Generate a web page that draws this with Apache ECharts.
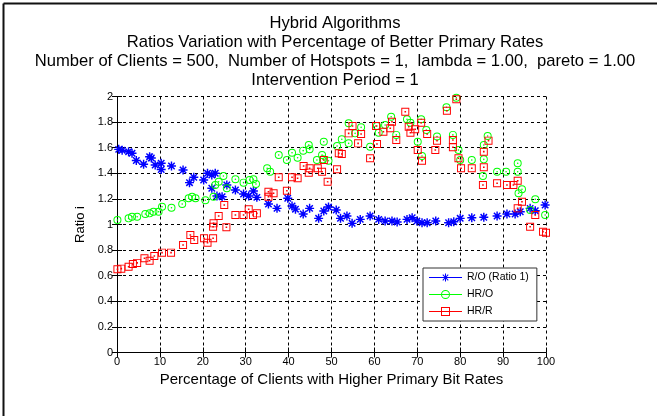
<!DOCTYPE html>
<html>
<head>
<meta charset="utf-8">
<script src="https://cdn.jsdelivr.net/npm/echarts@6/dist/echarts.min.js"></script>
<style>
  html, body { margin: 0; padding: 0; background: #fff; }
  #chart { width: 657px; height: 416px; }
</style>
</head>
<body>
<div id="chart"></div>
<script>
// values, [percentage, ratio]
const roData = [
  [0.4, 1.587], [1.2, 1.58], [2.7, 1.569], [3.5, 1.556], [4.5, 1.50], [6.2, 1.47], [7.6, 1.53], [8.0, 1.52],
  [8.9, 1.465], [10.3, 1.478], [10.3, 1.43], [12.7, 1.457], [15.4, 1.426], [16.9, 1.327], [17.9, 1.369],
  [20.2, 1.348], [21.1, 1.40], [22.1, 1.387], [22.1, 1.283], [22.9, 1.40], [23.3, 1.223], [24.5, 1.217],
  [25.6, 1.309], [27.6, 1.27], [29.5, 1.238], [30.7, 1.223], [31.8, 1.262], [32.6, 1.212], [35.3, 1.16],
  [37.3, 1.126], [39.8, 1.205], [40.8, 1.145], [41.6, 1.12], [43.4, 1.082], [44.9, 1.126], [47.0, 1.048],
  [48.2, 1.105], [49.3, 1.136], [51.1, 1.113], [52.1, 1.048], [53.6, 1.066], [54.8, 1.009], [56.7, 1.04],
  [59.0, 1.066], [61.0, 1.04], [62.5, 1.027], [64.1, 1.027], [65.3, 1.02], [67.6, 1.04], [68.8, 1.053],
  [69.9, 1.027], [71.1, 1.014], [72.3, 1.014], [74.3, 1.028], [77.3, 1.014], [78.5, 1.022], [80.0, 1.048],
  [82.7, 1.053], [85.5, 1.056], [88.6, 1.066], [90.9, 1.082], [92.8, 1.082], [94.0, 1.10], [96.3, 1.126],
  [97.5, 1.108], [99.8, 1.152]
];
const hroData = [
  [0.1, 1.035], [2.7, 1.048], [3.5, 1.061], [4.7, 1.061], [6.6, 1.082], [7.6, 1.087], [8.5, 1.10], [9.7, 1.10],
  [10.5, 1.139], [12.7, 1.131], [15.2, 1.16], [16.7, 1.205], [17.5, 1.217], [18.3, 1.205], [20.6, 1.19],
  [22.5, 1.217], [22.9, 1.309], [23.7, 1.334], [24.8, 1.379], [25.6, 1.283], [27.6, 1.353], [29.5, 1.327],
  [30.9, 1.348], [31.8, 1.353], [32.4, 1.316], [35.0, 1.439], [35.7, 1.412], [37.7, 1.543], [39.6, 1.504],
  [40.8, 1.561], [42.1, 1.522], [43.4, 1.577], [44.7, 1.621], [44.9, 1.588], [46.6, 1.504], [47.8, 1.543],
  [48.2, 1.647], [48.0, 1.509], [49.3, 1.498], [51.3, 1.613], [52.4, 1.666], [54.0, 1.791], [54.0, 1.634],
  [55.5, 1.712], [56.9, 1.759], [59.0, 1.608], [60.6, 1.77], [61.0, 1.717], [62.5, 1.777], [63.9, 1.842],
  [65.1, 1.70], [67.6, 1.822], [68.4, 1.795], [70.1, 1.647], [70.9, 1.822], [71.1, 1.535], [72.1, 1.738],
  [74.6, 1.688], [76.8, 1.916], [78.3, 1.70], [79.1, 1.99], [79.6, 1.582], [80.0, 1.504], [82.7, 1.504],
  [85.3, 1.379], [85.5, 1.509], [85.5, 1.621], [86.4, 1.691], [88.6, 1.412], [90.7, 1.412], [93.4, 1.478],
  [93.4, 1.412], [93.6, 1.244], [94.4, 1.275], [96.3, 1.113], [97.5, 1.197], [99.8, 1.074]
];
const hrrData = [
  [0.1, 0.65], [1.0, 0.655], [2.7, 0.67], [3.7, 0.691], [4.7, 0.70], [6.4, 0.736], [7.6, 0.717], [8.7, 0.754],
  [10.5, 0.78], [12.6, 0.78], [15.4, 0.84], [17.1, 0.918], [18.0, 0.879], [20.3, 0.892], [21.1, 0.858],
  [22.4, 0.892], [22.4, 0.983], [22.5, 1.009], [23.7, 1.066], [25.0, 1.152], [25.5, 0.978], [27.6, 1.074],
  [29.5, 1.074], [30.7, 1.119], [31.7, 1.074], [32.6, 1.087], [35.3, 1.256], [35.3, 1.217], [36.5, 1.244],
  [37.7, 1.369], [39.6, 1.264], [40.8, 1.369], [42.1, 1.361], [43.5, 1.457], [44.7, 1.405], [44.9, 1.44],
  [46.8, 1.439], [47.8, 1.412], [48.2, 1.504], [49.1, 1.334], [51.3, 1.431], [51.7, 1.556], [52.4, 1.551],
  [54.0, 1.712], [54.9, 1.77], [56.2, 1.634], [56.9, 1.707], [59.0, 1.517], [60.4, 1.77], [60.6, 1.629],
  [62.1, 1.725], [63.7, 1.752], [64.1, 1.803], [65.1, 1.66], [67.2, 1.881], [68.0, 1.764], [68.4, 1.717],
  [69.5, 1.744], [70.1, 1.582], [70.9, 1.795], [71.1, 1.498], [72.3, 1.707], [74.2, 1.582], [74.6, 1.655],
  [76.9, 1.889], [78.3, 1.66], [78.3, 1.603], [79.1, 1.978], [79.6, 1.517], [80.2, 1.439], [82.7, 1.439],
  [85.3, 1.309], [85.5, 1.569], [85.5, 1.447], [86.6, 1.655], [88.6, 1.322], [90.9, 1.309], [92.4, 1.309],
  [93.4, 1.342], [93.4, 1.126], [94.4, 1.178], [96.3, 0.983], [97.5, 1.074], [99.3, 0.944], [100.0, 0.936]
];
const seriesNames = ['R/O (Ratio 1)', 'HR/O', 'HR/R'];
const seriesColors = ['#0000ff', '#00ff00', '#ff0000'];

const FONT = 'Liberation Sans, Arial, sans-serif';

// marker shapes, matlab style
const starPath = 'path://M-1.6 -10 H1.6 V10 H-1.6 Z M-10 -1.6 H10 V1.6 H-10 Z ' +
  'M-8.3 -6 L-6 -8.3 L8.3 6 L6 8.3 Z M6 -8.3 L8.3 -6 L-6 8.3 L-8.3 6 Z';
const ringPath = 'path://M0 -10 A10 10 0 1 1 0 10 A10 10 0 1 1 0 -10 Z ' +
  'M0 -7.6 A7.6 7.6 0 1 0 0 7.6 A7.6 7.6 0 1 0 0 -7.6 Z ' +
  'M0 -2 A2 2 0 1 1 0 2 A2 2 0 1 1 0 -2 Z';
const squarePath = 'path://M-10 -10 H10 V10 H-10 Z M-7.6 -7.6 V7.6 H7.6 V-7.6 Z M-2 -2 H2 V2 H-2 Z';

// legend icons: line + marker in a 33x9 box
const lineBar = 'M0 4 H33 V5 H0 Z ';
const legStar = 'path://' + lineBar + 'M16 0.5 H17 V8.5 H16 Z M13.4 1.9 L14.1 1.2 L19.6 7.1 L18.9 7.8 Z M18.9 1.2 L19.6 1.9 L14.1 7.8 L13.4 7.1 Z';
const legRing = 'path://' + lineBar + 'M16.5 0 A4.5 4.5 0 1 1 16.5 9 A4.5 4.5 0 1 1 16.5 0 Z ' +
  'M16.5 1 A3.5 3.5 0 1 0 16.5 8 A3.5 3.5 0 1 0 16.5 1 Z';
const legSquare = 'path://' + lineBar + 'M12 0 H21 V9 H12 Z M13 1 V8 H20 V1 Z';

var chartDom = document.getElementById('chart');
var myChart = echarts.init(chartDom);
var option;

const tickStyle = { show: true, inside: true, length: 5, lineStyle: { color: '#000' } };
const axisLine = { show: true, lineStyle: { color: '#000', width: 1 } };
const gridLine = { show: true, lineStyle: { color: '#000', type: [3, 3], width: 1 } };

option = {
  backgroundColor: '#fff',
  animation: false,
  title: {
    text: 'Hybrid Algorithms\nRatios Variation with Percentage of Better Primary Rates\n' +
      'Number of Clients = 500,  Number of Hotspots = 1,  lambda = 1.00,  pareto = 1.00\nIntervention Period = 1',
    left: 330,
    top: 9,
    textAlign: 'center',
    textStyle: { fontFamily: FONT, fontSize: 16.6, fontWeight: 'normal', color: '#000', lineHeight: 19 }
  },
  legend: {
    orient: 'vertical',
    left: 423,
    top: 268,
    padding: [4, 8, 4, 6],
    itemWidth: 33,
    itemHeight: 9,
    itemGap: 6,
    backgroundColor: '#fff',
    borderColor: '#333',
    borderWidth: 1,
    borderRadius: 0,
    textStyle: { fontFamily: FONT, fontSize: 10.5, color: '#000', lineHeight: 10 },
    data: [
      { name: seriesNames[0], icon: legStar },
      { name: seriesNames[1], icon: legRing },
      { name: seriesNames[2], icon: legSquare }
    ]
  },
  grid: { left: 117, right: 111, top: 96.5, bottom: 63.5, containLabel: false },
  xAxis: [
    {
      type: 'value', min: 0, max: 100, interval: 10,
      name: 'Percentage of Clients with Higher Primary Bit Rates',
      nameLocation: 'middle', nameGap: 19,
      nameTextStyle: { fontFamily: FONT, fontSize: 15, color: '#000' },
      axisLine: axisLine, axisTick: tickStyle, splitLine: gridLine,
      axisLabel: { fontFamily: FONT, fontSize: 11, color: '#000', margin: 4 }
    },
    {
      type: 'value', min: 0, max: 100, interval: 10, position: 'top',
      axisLine: axisLine, axisTick: tickStyle, splitLine: { show: false },
      axisLabel: { show: false }
    }
  ],
  yAxis: [
    {
      type: 'value', min: 0, max: 2, interval: 0.2,
      name: 'Ratio i', nameLocation: 'middle', nameGap: 21,
      nameTextStyle: { fontFamily: FONT, fontSize: 13, color: '#000' },
      axisLine: axisLine, axisTick: tickStyle, splitLine: gridLine,
      axisLabel: { fontFamily: FONT, fontSize: 11, color: '#000', margin: 4 }
    },
    {
      type: 'value', min: 0, max: 2, interval: 0.2, position: 'right',
      axisLine: axisLine, axisTick: tickStyle, splitLine: { show: false },
      axisLabel: { show: false }
    }
  ],
  series: [
    {
      name: seriesNames[0], type: 'scatter', data: roData,
      symbol: starPath, symbolSize: 9,
      itemStyle: { color: seriesColors[0], opacity: 1 }
    },
    {
      name: seriesNames[1], type: 'scatter', data: hroData,
      symbol: ringPath, symbolSize: 8,
      itemStyle: { color: seriesColors[1], opacity: 1 }
    },
    {
      name: seriesNames[2], type: 'scatter', data: hrrData,
      symbol: squarePath, symbolSize: 8,
      itemStyle: { color: seriesColors[2], opacity: 1 }
    }
  ],
  graphic: [
    { type: 'line', shape: { x1: 3.5, y1: 3.5, x2: 657, y2: 3.5 }, style: { stroke: '#111', lineWidth: 2 } },
    { type: 'line', shape: { x1: 3.5, y1: 3.5, x2: 3.5, y2: 416 }, style: { stroke: '#111', lineWidth: 2 } }
  ]
};

option && myChart.setOption(option);
</script>
</body>
</html>
